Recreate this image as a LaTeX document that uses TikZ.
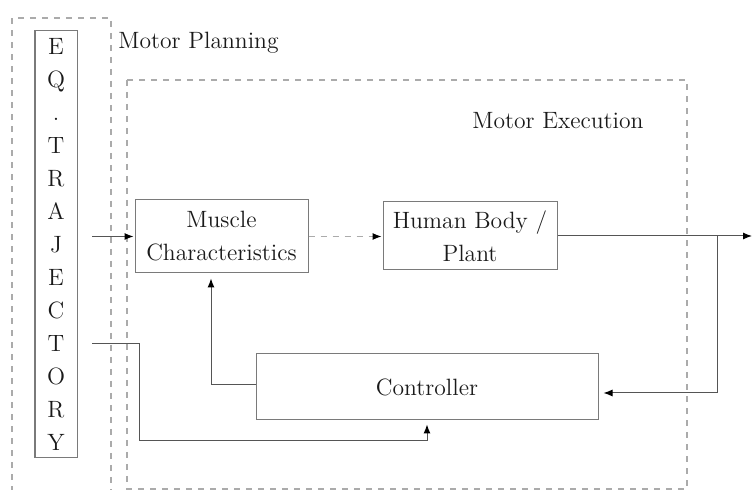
\documentclass[tikz,border=0pt]{standalone}
\usetikzlibrary{arrows.meta,calc}
\definecolor{boxline}{HTML}{7A7A7A}
\definecolor{wire}{HTML}{555555}
\definecolor{frame}{HTML}{ABABAB}
\definecolor{ink}{HTML}{1A1A1A}
\begin{document}
\begin{tikzpicture}[x=0.5pt,y=-0.5pt,
  font=\fontsize{11.8}{16.5}\selectfont,
  block/.style={draw=boxline,line width=0.5pt,text=ink,align=center,inner sep=0pt},
  region/.style={draw=frame,line width=0.6pt,dash pattern=on 3pt off 3pt},
  arr/.style={draw=wire,line width=0.5pt,-{Latex[length=4.5pt,width=3.5pt,color=black]}},
  caption/.style={text=ink,inner sep=0pt}]
\useasboundingbox (0,0) rectangle (752,490);

% planning and execution regions
\draw[region] (12,492) -- (12,18) -- (111,18) -- (111,492);
\draw[region] (127,80) rectangle (687,489);
\node[caption,anchor=west] (planlbl) at (118,43) {Motor Planning};
\node[caption] (execlbl) at (558,121) {Motor Execution};

% blocks
\node[block,minimum width=21pt,minimum height=213.5pt] (eq) at (56,244.5)
  {E\\Q\\.\\T\\R\\A\\J\\E\\C\\T\\O\\R\\Y};
\node[block,minimum width=86.5pt,minimum height=36.5pt] (mus) at (221.5,236.5)
  {Muscle\\Characteristics};
\node[block,minimum width=87pt,minimum height=34pt] (hum) at (470,236)
  {Human Body /\\Plant};
\node[block,minimum width=171pt,minimum height=33pt] (ctrl) at (427,387)
  {Controller};

% free ends and branch point
\coordinate (eqa) at (92,236.5);
\coordinate (eqb) at (92,344);
\coordinate (out) at (752,236);
\coordinate (br) at (717,236);

% signal flow
\draw[arr] (eqa) -- ([xshift=-0.5pt]mus.west);
\draw[arr,dash pattern=on 3pt off 3pt,draw=frame] (mus.east) -- ([xshift=-0.5pt]hum.west |- mus.east);
\draw[arr] (hum.east) -- (out);
\draw[arr] (br) |- ([xshift=2.5pt,yshift=-3pt]ctrl.east);
\draw[arr] ([yshift=1pt]ctrl.west) -| ([xshift=-5.25pt,yshift=-2.5pt]mus.south);
\draw[arr] (eqb) -- (139,344) -- (139,441) -| ([yshift=-2pt]ctrl.south);
\end{tikzpicture}
\end{document}
